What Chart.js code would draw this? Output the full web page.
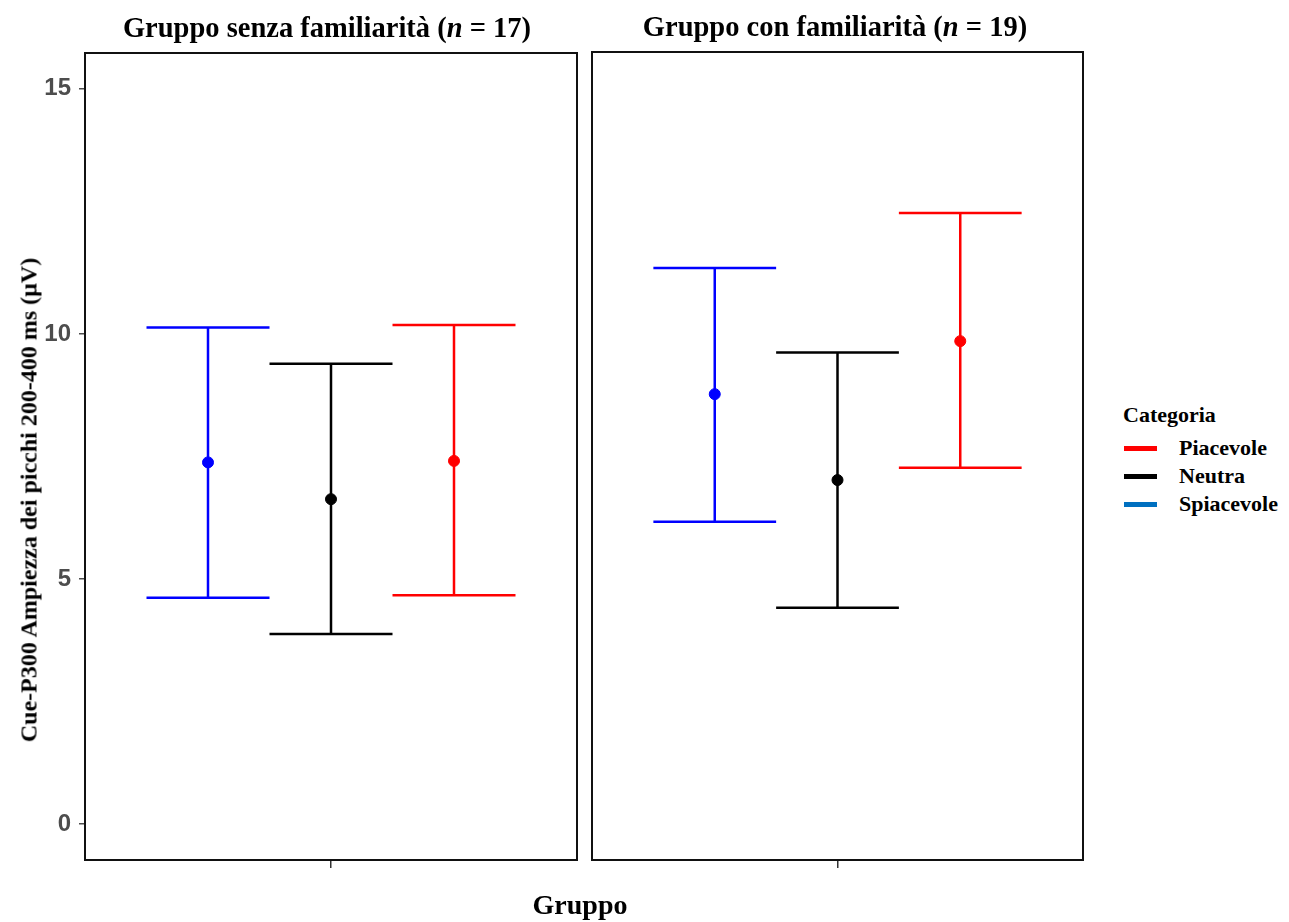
<!DOCTYPE html>
<html>
<head>
<meta charset="utf-8">
<script src="https://cdn.jsdelivr.net/npm/chart.js@4.4.1/dist/chart.umd.min.js"></script>
<style>
  body { margin: 0; background: #fff; }
  #wrap { position: relative; width: 1289px; height: 922px; overflow: hidden; }
  .serif { font-family: 'Liberation Serif', 'Times New Roman', serif; font-weight: bold; color: #000; position: absolute; white-space: nowrap; }
  .title { top: 28px; font-size: 28.5px; transform: translate(-50%, -50%); }
  #ytitle { left: 29px; top: 500px; font-size: 24px; transform: translate(-50%, -50%) rotate(-90deg); }
  #xtitle { left: 580px; top: 905px; font-size: 28px; transform: translate(-50%, -50%); }
  #legend { left: 1118px; top: 402px; }
  #legend .head { font-size: 22px; margin-bottom: 6px; padding-left: 5px; }
  #legend .item { font-size: 22px; height: 28px; line-height: 28px; display: flex; align-items: center; }
  #legend .sw { width: 33px; height: 5px; margin: 0 22px 0 6px; }
  .box { position: absolute; top: 0; height: 922px; }
</style>
</head>
<body>
<div id="wrap">
  <div class="box" style="left:0;width:585px;"><canvas id="chartSenza"></canvas></div>
  <div class="box" style="left:585px;width:505px;"><canvas id="chartCon"></canvas></div>
  <div class="serif title" style="left:327px;">Gruppo senza familiarità (<i>n</i> = 17)</div>
  <div class="serif title" style="left:835px;top:27px;">Gruppo con familiarità (<i>n</i> = 19)</div>
  <div class="serif" id="ytitle">Cue-P300 Ampiezza dei picchi 200-400 ms (µV)</div>
  <div class="serif" id="xtitle">Gruppo</div>
  <div class="serif" id="legend"></div>
</div>
<script>
// categories in dodge order (left to right inside each panel)
const categories = ['Spiacevole', 'Neutra', 'Piacevole'];
const pointColors = ['#0000ff', '#000000', '#ff0000'];
const dodgePos = [0.7, 1.0, 1.3];

// means and error bar limits
const meanSenza = [7.38, 6.63, 7.41];
const lowSenza = [4.62, 3.88, 4.67];
const highSenza = [10.13, 9.39, 10.18];

const meanCon = [8.76, 7.01, 9.84];
const lowCon = [6.16, 4.41, 7.26];
const highCon = [11.33, 9.61, 12.45];

const yTicks = [0, 5, 10, 15];

const legendLabels = ['Piacevole', 'Neutra', 'Spiacevole'];
const legendColors = ['#ff0000', '#000000', '#0070c0'];

// legend (shared by both panels)
const legendEl = document.getElementById('legend');
legendEl.innerHTML = '<div class="head">Categoria</div>' + legendLabels.map((l, i) =>
  `<div class="item"><span class="sw" style="background:${legendColors[i]}"></span>${l}</div>`).join('');

// error bars drawn from the low/high arrays through the chart scales
const errorBars = {
  id: 'errorBars',
  beforeDatasetsDraw(chart, args, opts) {
    const { ctx, scales } = chart;
    ctx.save();
    ctx.lineWidth = 2.5;
    chart.data.datasets.forEach((ds, i) => {
      const x = scales.x.getPixelForValue(ds.data[0].x);
      const x0 = scales.x.getPixelForValue(ds.data[0].x - 0.15);
      const x1 = scales.x.getPixelForValue(ds.data[0].x + 0.15);
      const yl = scales.y.getPixelForValue(opts.low[i]);
      const yh = scales.y.getPixelForValue(opts.high[i]);
      ctx.strokeStyle = ds.borderColor;
      ctx.beginPath();
      ctx.moveTo(x, yl); ctx.lineTo(x, yh);
      ctx.moveTo(x0, yl); ctx.lineTo(x1, yl);
      ctx.moveTo(x0, yh); ctx.lineTo(x1, yh);
      ctx.stroke();
    });
    ctx.restore();
  }
};

// panel border
const panelBox = {
  id: 'panelBox',
  afterDraw(chart) {
    const { ctx, chartArea: a } = chart;
    ctx.save();
    ctx.strokeStyle = '#111';
    ctx.lineWidth = 2;
    ctx.strokeRect(a.left, a.top, a.right - a.left, a.bottom - a.top);
    ctx.restore();
  }
};

function makePanel(id, means, lows, highs, showY, pad) {
  const datasets = categories.map((c, i) => ({
    label: c,
    data: [{ x: dodgePos[i], y: means[i] }],
    backgroundColor: pointColors[i],
    borderColor: pointColors[i],
    pointRadius: 5.5,
    pointHoverRadius: 5.5
  }));
  return new Chart(document.getElementById(id), {
    type: 'scatter',
    data: { datasets },
    plugins: [errorBars, panelBox],
    options: {
      responsive: true,
      maintainAspectRatio: false,
      animation: false,
      layout: { padding: pad },
      plugins: {
        legend: { display: false },
        tooltip: { enabled: false },
        errorBars: { low: lows, high: highs }
      },
      scales: {
        x: {
          type: 'linear',
          min: 0.4,
          max: 1.6,
          afterBuildTicks: s => { s.ticks = [{ value: 1 }]; },
          afterFit: s => { s.height = 12; },
          ticks: { callback: () => '' },
          border: { display: false },
          grid: { drawOnChartArea: false, drawTicks: true, tickLength: 8, color: '#333', lineWidth: 1.5 }
        },
        y: {
          display: showY,
          min: -0.73,
          max: 15.73,
          afterBuildTicks: s => { s.ticks = yTicks.map(v => ({ value: v })); },
          afterFit: s => { s.width = showY ? 85 : 0; },
          ticks: {
            color: '#4d4d4d',
            padding: 8,
            font: { family: "'Liberation Sans', Arial, sans-serif", size: 24, weight: 'bold' }
          },
          border: { display: false },
          grid: { drawOnChartArea: false, drawTicks: true, tickLength: 6, color: '#4d4d4d', lineWidth: 1.5 }
        }
      }
    }
  });
}

makePanel('chartSenza', meanSenza, lowSenza, highSenza, true, { top: 53, bottom: 50, left: 0, right: 8 });
makePanel('chartCon', meanCon, lowCon, highCon, false, { top: 52, bottom: 50, left: 7, right: 7 });
</script>
</body>
</html>
